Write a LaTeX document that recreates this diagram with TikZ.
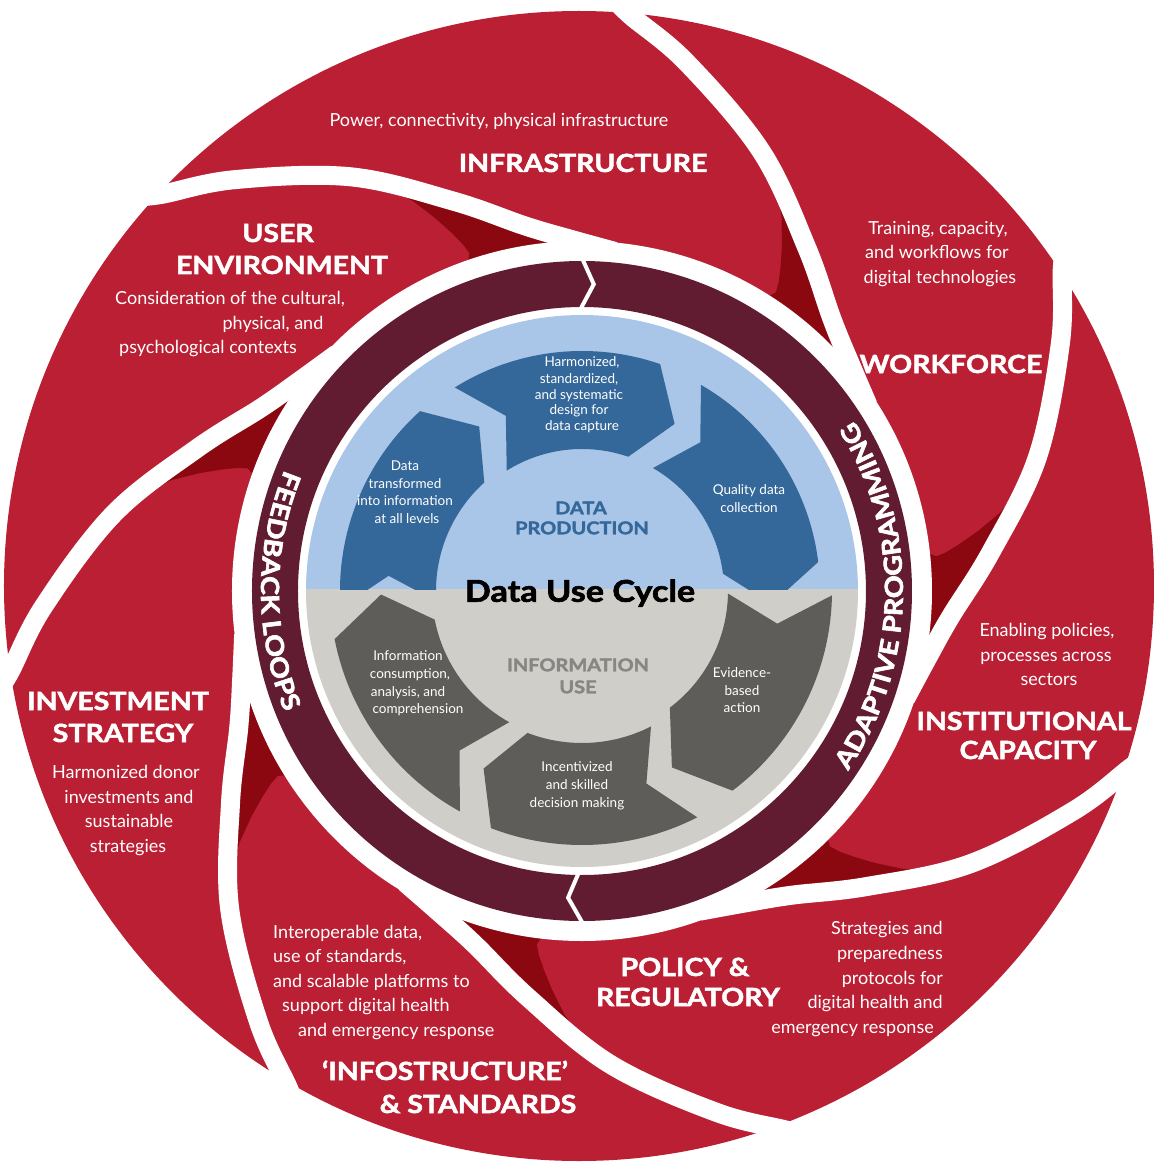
\documentclass[tikz,border=0pt]{standalone}
\usepackage{fontspec}
\setmainfont{Lato}
\newfontfamily\headfont{Lato}[FakeStretch=1.14, BoldFeatures={FakeBold=2}]
\newfontfamily\ringfont{Lato}[UprightFont={* Bold}, FakeStretch=1.14, FakeBold=2.5]
\usetikzlibrary{decorations.text}
\definecolor{bladered}{RGB}{186,31,51}
\definecolor{shadowred}{RGB}{139,8,16}
\definecolor{ringmaroon}{RGB}{98,28,49}
\definecolor{skyblue}{RGB}{169,197,231}
\definecolor{arrowblue}{RGB}{52,104,154}
\definecolor{discgray}{RGB}{207,206,201}
\definecolor{arrowgray}{RGB}{94,93,89}
\definecolor{labelgray}{RGB}{135,134,130}
\newcommand\cyclearrow[6]{%
  \fill[#6] (#1:#4) arc[start angle=#1, end angle=#2, radius=#4]
    -- (#3:{(#4+#5)/2}) -- (#2:#5) arc[start angle=#2, end angle=#1, radius=#5]
    -- ({#1-8.5}:{(#4+#5)/2}) -- cycle;}
\tikzset{
  bodytxt/.style={text=white, font=\fontsize{18}{22}\selectfont, inner sep=0pt, text height=13pt, text depth=4pt},
  headtxt/.style={text=white, font=\headfont\bfseries\fontsize{25}{30}\selectfont, inner sep=0pt, text height=18pt, text depth=0pt},
  smalltxt/.style={text=white, font=\fontsize{13.5}{16}\selectfont, inner sep=0pt, text height=10pt, text depth=2.5pt},
  coretxt/.style={font=\headfont\bfseries\fontsize{17.5}{20}\selectfont, inner sep=0pt, text height=12.5pt, text depth=0pt},
  separator/.style={white, line width=19pt},
  chevron/.style={white, line width=4pt},
}
\begin{document}
\begin{tikzpicture}[x=1pt,y=1pt]
\useasboundingbox (-582,-572) rectangle (572,591);
% ---- outer blades ----
\fill[bladered] (-3,5) circle[radius=575];
\foreach \k in {0,...,6}{
  \fill[shadowred, rotate=-51.4286*\k] (179,440) -- (193.7,406.2) -- (199.5,375.2) -- (200,346.4)
    -- (198.6,324) -- (196.7,308.7) -- (193.9,298.6) -- (182.8,292.6) -- (200,270)
    -- (268,228) -- (250,272) -- (224.5,344) -- cycle;
}
\fill[white] (0,0) circle[radius=350];
\foreach \k in {0,...,6}{
  \draw[separator, rotate=-51.4286*\k] plot[smooth, tension=0.6] coordinates
    {(30,595) (48,576) (104.7,528.4) (179.3,439.6) (224.5,344) (250,272) (268,228) (286,186)};
}
% ---- maroon ring ----
\fill[ringmaroon, even odd rule] (0,0) circle[radius=330] (0,0) circle[radius=284];
\draw[chevron] (90:333) -- (87.8:307) -- (90.4:281);
\draw[chevron] (-90.6:281) -- (-92.6:307) -- (-89.8:333);
\path[decorate, decoration={text along path, text color=white, text align=center,
  text={|\ringfont\fontsize{25}{25}\selectfont|FEEDBACK LOOPS}}]
  (150:321) arc[start angle=150, end angle=210, radius=321];
\path[decorate, decoration={text along path, text color=white, text align=center,
  text={|\ringfont\fontsize{25}{25}\selectfont|ADAPTIVE PROGRAMMING}}]
  (-42:321) arc[start angle=-42, end angle=40, radius=321];
% ---- inner disc ----
\begin{scope}
  \clip (0,0) circle[radius=276];
  \fill[skyblue] (-280,2) rectangle (280,280);
  \fill[discgray] (-280,-280) rectangle (280,2);
  \begin{scope}
    \clip (-280,2) rectangle (280,280);
    \cyclearrow{184}{132}{122}{242}{146}{arrowblue}
    \cyclearrow{122}{71}{61}{240}{142}{arrowblue}
    \cyclearrow{60}{7}{-4}{238}{142}{arrowblue}
  \end{scope}
  \begin{scope}
    \clip (-280,-280) rectangle (280,2);
    \cyclearrow{-1}{-53}{-63}{250}{146}{arrowgray}
    \cyclearrow{-63}{-111}{-119}{254}{152}{arrowgray}
    \cyclearrow{-119}{-169}{-179}{252}{150}{arrowgray}
  \end{scope}
\end{scope}
% ---- texts (pixel coordinates) ----
\begin{scope}[shift={(-582,591)}, yscale=-1]
  \node[bodytxt] (infraT) at (499,122) {Power, connectivity, physical infrastructure};
  \node[headtxt] (infraH) at (583,163) {INFRASTRUCTURE};
  \node[headtxt] (userH1) at (278,233) {USER};
  \node[headtxt] (userH2) at (282,265) {ENVIRONMENT};
  \node[bodytxt] (userT1) at (230,300) {Consideration of the cultural,};
  \node[bodytxt] (userT2) at (273,325) {physical, and};
  \node[bodytxt] (userT3) at (208,349) {psychological contexts};
  \node[bodytxt] (workT1) at (938,230) {Training, capacity,};
  \node[bodytxt] (workT2) at (937,254) {and workflows for};
  \node[bodytxt] (workT3) at (940,279) {digital technologies};
  \node[headtxt] (workH) at (951,364) {WORKFORCE};
  \node[bodytxt] (instT1) at (1047,632) {Enabling policies,};
  \node[bodytxt] (instT2) at (1046,657) {processes across};
  \node[bodytxt] (instT3) at (1049,681) {sectors};
  \node[headtxt] (instH1) at (1024,721) {INSTITUTIONAL};
  \node[headtxt] (instH2) at (1028,750) {CAPACITY};
  \node[bodytxt, anchor=east] (polT1) at (943,930) {Strategies and};
  \node[bodytxt, anchor=east] (polT2) at (943,955) {preparedness};
  \node[bodytxt, anchor=east] (polT3) at (943,980) {protocols for};
  \node[bodytxt, anchor=east] (polT4) at (943,1004) {digital health and};
  \node[bodytxt, anchor=east] (polT5) at (934,1029) {emergency response};
  \node[headtxt] (polH1) at (685,967) {POLICY \&};
  \node[headtxt] (polH2) at (688,997) {REGULATORY};
  \node[bodytxt, anchor=west] (infoT1) at (273,934) {Interoperable data,};
  \node[bodytxt, anchor=west] (infoT2) at (273,958) {use of standards,};
  \node[bodytxt, anchor=west] (infoT3) at (273,983) {and scalable platforms to};
  \node[bodytxt, anchor=west] (infoT4) at (282,1007) {support digital health};
  \node[bodytxt, anchor=west] (infoT5) at (298,1032) {and emergency response};
  \node[headtxt] (infoH1) at (445,1071) {‘INFOSTRUCTURE’};
  \node[headtxt] (infoH2) at (478,1104) {\& STANDARDS};
  \node[headtxt] (invH1) at (118,701) {INVESTMENT};
  \node[headtxt] (invH2) at (123,733) {STRATEGY};
  \node[bodytxt] (invT1) at (126,774) {Harmonized donor};
  \node[bodytxt] (invT2) at (129,799) {investments and};
  \node[bodytxt] (invT3) at (129,823) {sustainable};
  \node[bodytxt] (invT4) at (128,848) {strategies};
  % inner arrows
  \node[smalltxt] (harm1) at (582,363) {Harmonized,};
  \node[smalltxt] (harm2) at (579,380) {standardized,};
  \node[smalltxt] (harm3) at (579,396) {and systematic};
  \node[smalltxt] (harm4) at (579,411) {design for};
  \node[smalltxt] (harm5) at (582,427) {data capture};
  \node[smalltxt] (dt1) at (405,467) {Data};
  \node[smalltxt] (dt2) at (405,485) {transformed};
  \node[smalltxt] (dt3) at (405,502) {into information};
  \node[smalltxt] (dt4) at (407,520) {at all levels};
  \node[smalltxt] (qd1) at (749,491) {Quality data};
  \node[smalltxt] (qd2) at (749,509) {collection};
  \node[smalltxt] (ic1) at (408,657) {Information};
  \node[smalltxt] (ic2) at (410,675) {consumption,};
  \node[smalltxt] (ic3) at (408,693) {analysis, and};
  \node[smalltxt] (ic4) at (418,710) {comprehension};
  \node[smalltxt] (ev1) at (742,674) {Evidence-};
  \node[smalltxt] (ev2) at (742,692) {based};
  \node[smalltxt] (ev3) at (742,709) {action};
  \node[smalltxt] (inc1) at (577,768) {Incentivized};
  \node[smalltxt] (inc2) at (577,786) {and skilled};
  \node[smalltxt] (inc3) at (577,804) {decision making};
  \node[coretxt, text=arrowblue] (dp1) at (581,508) {DATA};
  \node[coretxt, text=arrowblue] (dp2) at (582,528) {PRODUCTION};
  \node[coretxt, text=labelgray] (iu1) at (578,665) {INFORMATION};
  \node[coretxt, text=labelgray] (iu2) at (578,687) {USE};
  \node[font=\headfont\bfseries\fontsize{30}{33}\selectfont, inner sep=0pt, text height=21.5pt, text depth=0pt] (duc) at (580,591) {Data Use Cycle};
\end{scope}
\end{tikzpicture}
\end{document}
